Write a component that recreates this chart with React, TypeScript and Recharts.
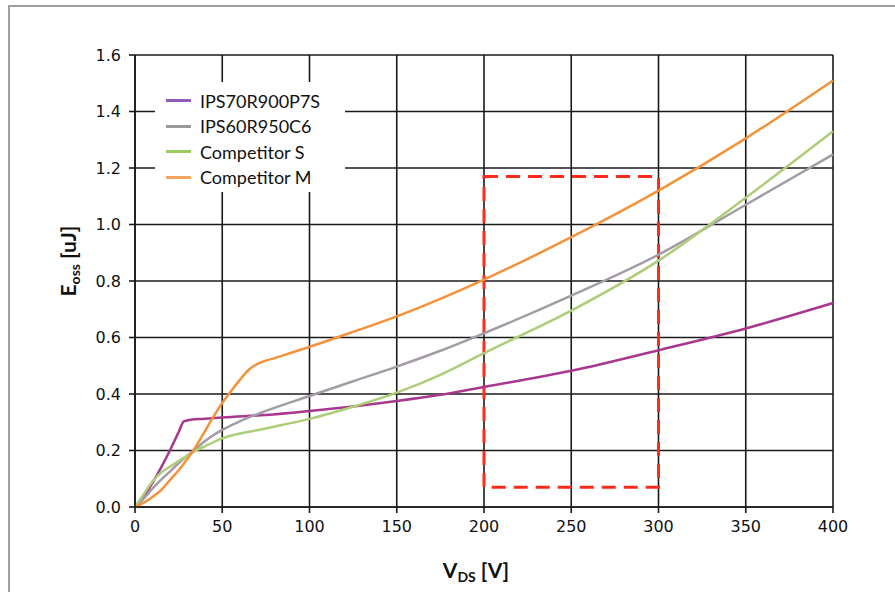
import React from 'react';
import {
    CartesianGrid,
    Line,
    LineChart,
    ReferenceArea,
    XAxis,
    YAxis,
} from 'recharts';

// V_DS [V] sample points and E_oss [uJ]
const vP7 = [0, 5, 10, 15, 20, 25, 28, 32, 40, 50, 75, 100, 125, 150, 175, 200, 250, 300, 350, 400];
const eP7 = [0, 0.035, 0.085, 0.14, 0.2, 0.265, 0.303, 0.309, 0.312, 0.317, 0.326, 0.34, 0.356, 0.375, 0.397, 0.425, 0.482, 0.555, 0.632, 0.722];

const vC6 = [0, 5, 10, 15, 20, 25, 30, 35, 40, 50, 60, 75, 100, 125, 150, 175, 200, 250, 300, 350, 400];
const eC6 = [0, 0.03, 0.065, 0.097, 0.125, 0.155, 0.182, 0.207, 0.233, 0.273, 0.303, 0.34, 0.393, 0.445, 0.497, 0.553, 0.615, 0.748, 0.893, 1.07, 1.248];

const vS = [0, 5, 10, 15, 20, 25, 30, 35, 40, 50, 75, 100, 125, 150, 175, 200, 250, 300, 350, 400];
const eS = [0, 0.045, 0.09, 0.122, 0.143, 0.163, 0.182, 0.2, 0.215, 0.243, 0.278, 0.312, 0.355, 0.405, 0.468, 0.545, 0.695, 0.872, 1.095, 1.33];

const vM = [0, 5, 10, 15, 20, 25, 30, 35, 40, 45, 50, 55, 60, 65, 70, 75, 80, 90, 100, 125, 150, 175, 200, 250, 300, 350, 400];
const eM = [0, 0.015, 0.035, 0.06, 0.095, 0.13, 0.17, 0.215, 0.268, 0.32, 0.368, 0.41, 0.449, 0.485, 0.506, 0.518, 0.527, 0.547, 0.567, 0.62, 0.675, 0.737, 0.805, 0.955, 1.12, 1.305, 1.51];

const seriesNames = ['IPS70R900P7S', 'IPS60R950C6', 'Competitor S', 'Competitor M'];
const lineColors = ['#a8388f', '#a39ca6', '#aecd78', '#f4923a'];
const legendColors = ['#8f5cc0', '#9a9a9a', '#9ccd5c', '#f6a55a'];

const xTicks = [0, 50, 100, 150, 200, 250, 300, 350, 400];
const yTicks = [0, 0.2, 0.4, 0.6, 0.8, 1.0, 1.2, 1.4, 1.6];

// highlighted window: 200..300 V, 0.07..1.17 uJ
const boxX = [200, 300];
const boxY = [0.07, 1.17];

const toPoints = (v: number[], e: number[]) => v.map((x, i) => ({ v: x, e: e[i] }));
const seriesData = [toPoints(vP7, eP7), toPoints(vC6, eC6), toPoints(vS, eS), toPoints(vM, eM)];

const tickFont = { fontFamily: 'DejaVu Sans', fontSize: 16, fill: '#111' };
const titleFont = 'Lato';

// drawn over the plot on a white box, like the original which hides the grid behind it
const LegendBox = () => (
    <div
        style={{
            position: 'absolute',
            left: 155,
            top: 82,
            background: '#fff',
            width: 190,
            height: 110,
            paddingTop: 6,
            boxSizing: 'border-box',
            fontFamily: titleFont,
            fontSize: 18,
            color: '#111',
        }}
    >
        {seriesNames.map((name, i) => (
            <div key={name} style={{ display: 'flex', alignItems: 'center', height: 25.5 }}>
                <div style={{ width: 25, height: 3, background: legendColors[i], marginLeft: 11, marginRight: 9 }} />
                <span>{name}</span>
            </div>
        ))}
    </div>
);

const App = () => {
    return (
        <div style={{ position: 'absolute', left: 0, top: 0, width: 895, height: 592, overflow: 'hidden', background: '#fff' }}>
            <div
                style={{
                    position: 'absolute',
                    left: 8,
                    top: 5,
                    width: 920,
                    height: 620,
                    border: '2px solid #a0a0a0',
                }}
            />
            <div style={{ position: 'absolute', left: 0, top: 0 }}>
                <LineChart
                    width={895}
                    height={592}
                    margin={{ top: 55, right: 62, bottom: 55, left: 75 }}
                >
                    <CartesianGrid stroke="#1a1a1a" strokeWidth={1.6} />
                    <XAxis
                        dataKey="v"
                        type="number"
                        domain={[0, 400]}
                        ticks={xTicks}
                        allowDuplicatedCategory={false}
                        stroke="#1a1a1a"
                        strokeWidth={1.6}
                        tickSize={6}
                        tickMargin={8}
                        height={30}
                        tick={tickFont}
                    />
                    <YAxis
                        type="number"
                        domain={[0, 1.6]}
                        ticks={yTicks}
                        tickFormatter={(t: number) => t.toFixed(1)}
                        stroke="#1a1a1a"
                        strokeWidth={1.6}
                        tickSize={6}
                        tickMargin={8}
                        width={60}
                        tick={tickFont}
                    />
                    <ReferenceArea
                        x1={boxX[0]}
                        x2={boxX[1]}
                        y1={boxY[0]}
                        y2={boxY[1]}
                        fill="none"
                        stroke="#ff2a1a"
                        strokeWidth={3}
                        strokeDasharray="14 8"
                        ifOverflow="visible"
                    />
                    {seriesData.map((d, i) => (
                        <Line
                            key={seriesNames[i]}
                            data={d}
                            dataKey="e"
                            name={seriesNames[i]}
                            type="monotone"
                            stroke={lineColors[i]}
                            strokeWidth={2.5}
                            dot={false}
                            isAnimationActive={false}
                        />
                    ))}
                </LineChart>
            </div>
            <LegendBox />
            <svg width={895} height={592} style={{ position: 'absolute', left: 0, top: 0, pointerEvents: 'none' }}>
                <text
                    x={476}
                    y={578}
                    textAnchor="middle"
                    fontFamily={titleFont}
                    fontWeight={700}
                    fontSize={21}
                    fill="#111"
                >
                    V<tspan fontSize={14} dy={4}>DS</tspan>
                    <tspan dy={-4}> [V]</tspan>
                </text>
                <text
                    transform="translate(76,261) rotate(-90)"
                    textAnchor="middle"
                    fontFamily={titleFont}
                    fontWeight={700}
                    fontSize={21}
                    fill="#111"
                >
                    E<tspan fontSize={14} dy={4}>oss</tspan>
                    <tspan dy={-4}> [uJ]</tspan>
                </text>
            </svg>
        </div>
    );
};

export default App;
